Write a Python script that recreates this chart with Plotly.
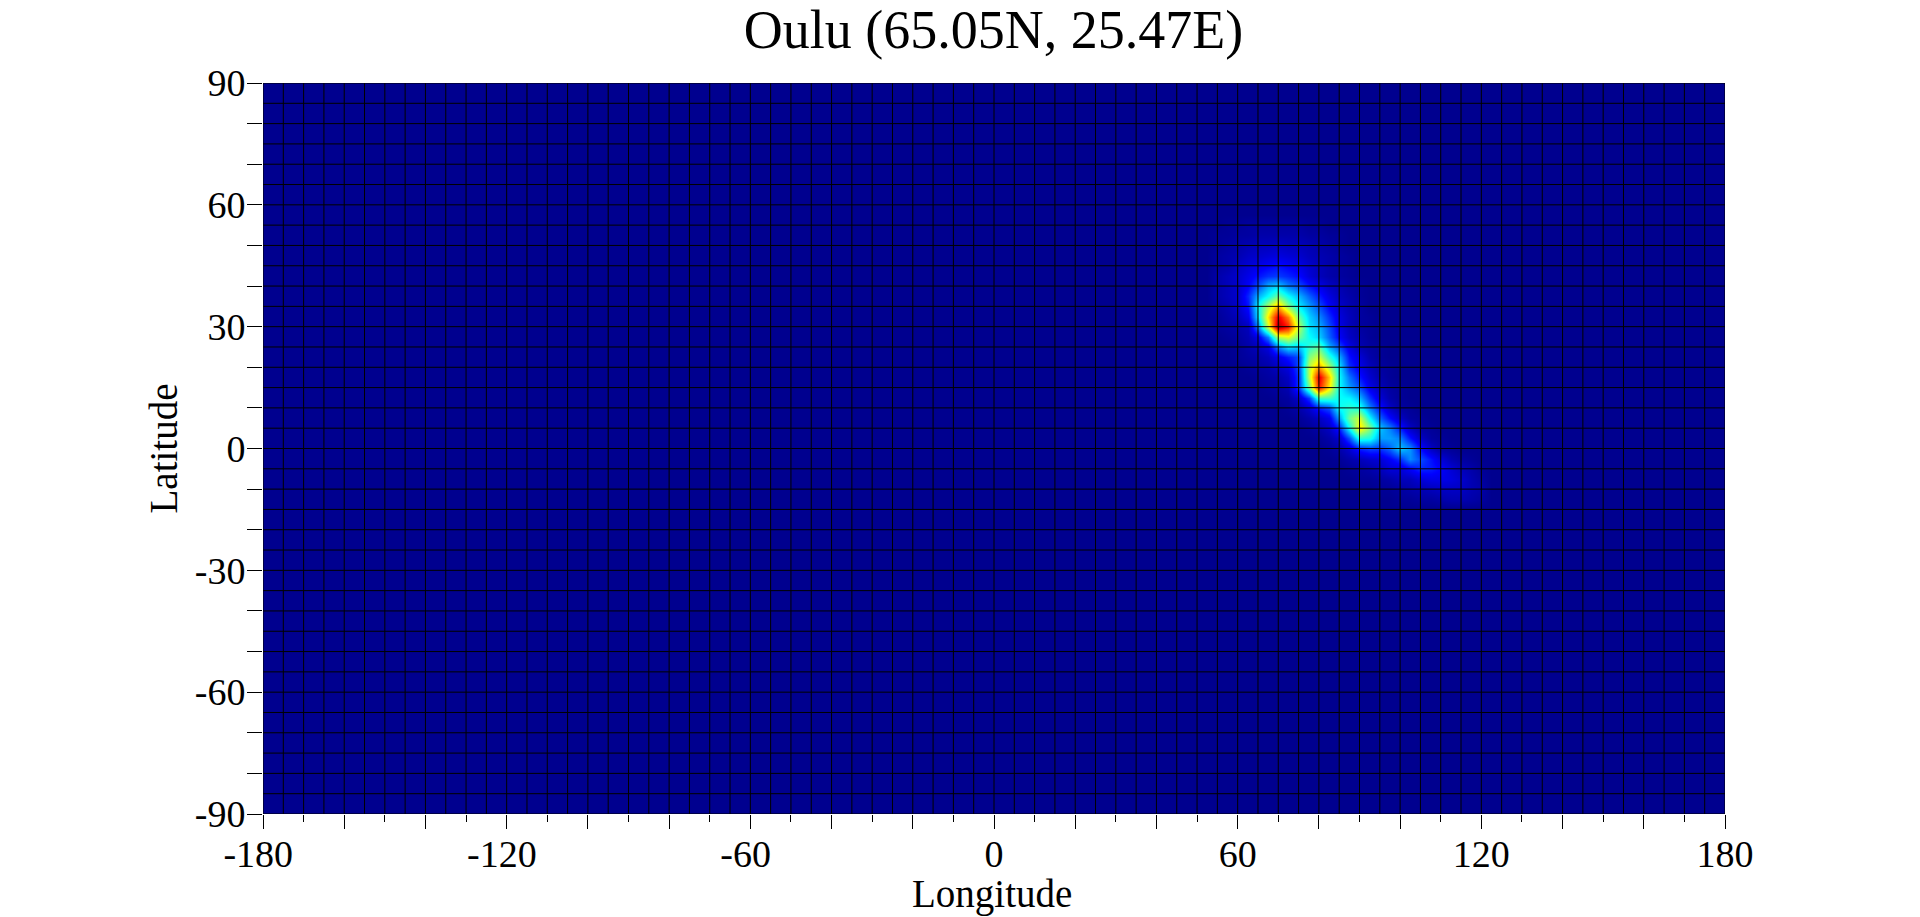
import plotly.graph_objects as go

TITLE = "Oulu (65.05N, 25.47E)"
X_TITLE = "Longitude"
Y_TITLE = "Latitude"
LONS = [-180 + 2.5 * i for i in range(145)]
LATS = [-90 + 2.5 * i for i in range(73)]
GRID_LONS = list(range(-180, 185, 5))
GRID_LATS = list(range(-90, 95, 5))

# Longitudes of the values in each row below: 55, 57.5, 60 ... eastward
HOT_LONS = [55 + 2.5 * i for i in range(27)]
lat_55 = [.00, .01, .01, .02, .02, .02, .02, .02, .02, .01, .01]
lat_52 = [.01, .01, .02, .02, .03, .03, .03, .03, .03, .02, .02, .01, .01]
lat_50 = [.01, .02, .03, .04, .05, .05, .06, .05, .05, .04, .03, .02, .01]
lat_47 = [.02, .03, .04, .06, .07, .08, .09, .08, .07, .05, .04, .03, .02, .01]
lat_45 = [.02, .03, .06, .08, .10, .12, .14, .12, .10, .07, .05, .03, .02, .01]
lat_42 = [.03, .05, .07, .10, .14, .17, .18, .16, .13, .08, .05, .03, .02, .01]
lat_40 = [.03, .05, .07, .12, .20, .30, .33, .25, .20, .14, .10, .06, .04, .02, .01]
lat_37 = [.03, .05, .07, .16, .30, .38, .48, .38, .30, .22, .15, .09, .05, .03, .01]
lat_35 = [.02, .04, .07, .14, .38, .55, .70, .50, .36, .28, .20, .12, .07, .04, .02]
lat_32 = [.01, .03, .05, .10, .35, .65, .90, .75, .47, .33, .26, .17, .09, .05, .02, .01]
lat_30 = [.01, .02, .03, .05, .25, .58, .96, .85, .55, .35, .30, .20, .10, .05, .02, .01]
lat_27 = [.00, .01, .02, .04, .10, .25, .55, .60, .48, .38, .33, .22, .12, .06, .03, .01]
lat_25 = [.00, .00, .01, .03, .05, .09, .25, .35, .32, .42, .47, .30, .20, .10, .04, .02, .01]
lat_22 = [.00, .00, .01, .02, .03, .05, .10, .15, .20, .50, .58, .42, .30, .14, .08, .03, .01]
lat_20 = [.00, .00, .00, .01, .02, .03, .06, .09, .20, .56, .72, .55, .36, .17, .10, .05, .02, .01]
lat_17 = [.00, .00, .00, .00, .01, .02, .03, .06, .18, .56, .90, .68, .38, .24, .14, .07, .03, .01]
lat_15 = [.00, .00, .00, .00, .00, .01, .02, .04, .18, .48, .85, .64, .38, .28, .20, .10, .05, .02, .01]
lat_12 = [.00, .00, .00, .00, .00, .00, .01, .02, .07, .18, .44, .44, .38, .37, .30, .17, .08, .03, .01]
lat_10 = [.00, .00, .00, .00, .00, .00, .00, .01, .03, .07, .15, .20, .38, .42, .40, .25, .14, .06, .02, .01]
lat_7 = [.00, .00, .00, .00, .00, .00, .00, .00, .01, .03, .06, .10, .28, .48, .58, .37, .22, .13, .06, .02, .01]
lat_5 = [.00, .00, .00, .00, .00, .00, .00, .00, .00, .01, .03, .06, .15, .38, .65, .50, .32, .25, .15, .06, .02, .01]
lat_2 = [.00, .00, .00, .00, .00, .00, .00, .00, .00, .00, .01, .03, .07, .20, .42, .40, .28, .28, .25, .14, .06, .02, .01]
lat_0 = [.00, .00, .00, .00, .00, .00, .00, .00, .00, .00, .00, .01, .03, .07, .15, .18, .17, .22, .32, .27, .14, .06, .02, .01]
lat_m2 = [.00, .00, .00, .00, .00, .00, .00, .00, .00, .00, .00, .00, .01, .03, .05, .07, .08, .12, .17, .26, .20, .14, .08, .04, .02, .01]
lat_m5 = [.00, .00, .00, .00, .00, .00, .00, .00, .00, .00, .00, .00, .00, .01, .02, .03, .05, .08, .08, .12, .16, .15, .12, .08, .05, .03, .01]
lat_m7 = [.00, .00, .00, .00, .00, .00, .00, .00, .00, .00, .00, .00, .00, .00, .01, .01, .02, .03, .05, .05, .08, .10, .10, .09, .07, .04, .02]
lat_m10 = [.00, .00, .00, .00, .00, .00, .00, .00, .00, .00, .00, .00, .00, .00, .00, .00, .01, .01, .02, .03, .04, .05, .06, .06, .06, .04, .03]
lat_m12 = [.00, .00, .00, .00, .00, .00, .00, .00, .00, .00, .00, .00, .00, .00, .00, .00, .00, .00, .01, .01, .02, .02, .03, .04, .04, .03, .02]
HOT_ROWS = {55: lat_55, 52.5: lat_52, 50: lat_50, 47.5: lat_47, 45: lat_45, 42.5: lat_42,
            40: lat_40, 37.5: lat_37, 35: lat_35, 32.5: lat_32, 30: lat_30, 27.5: lat_27,
            25: lat_25, 22.5: lat_22, 20: lat_20, 17.5: lat_17, 15: lat_15, 12.5: lat_12,
            10: lat_10, 7.5: lat_7, 5: lat_5, 2.5: lat_2, 0: lat_0, -2.5: lat_m2,
            -5: lat_m5, -7.5: lat_m7, -10: lat_m10, -12.5: lat_m12}

X_TICKS = list(range(-180, 200, 20))
NB = "\u00a0"
X_LABELS = {-180: "-180" + NB, -120: "-120" + NB, -60: "-60" + NB, 0: "0", 60: "60", 120: "120", 180: "180"}
Y_TICKS = list(range(-90, 100, 10))
Y_LABELS = {-90: "-90", -60: "-60", -30: "-30", 0: "0", 30: "30", 60: "60", 90: "90"}

JET = [[0, "#00008f"], [0.125, "#0000ff"], [0.375, "#00ffff"],
       [0.625, "#ffff00"], [0.875, "#ff0000"], [1, "#800000"]]

z = []
for lat in LATS:
    row = [0.0] * len(LONS)
    if lat in HOT_ROWS:
        for lon, v in zip(HOT_LONS, HOT_ROWS[lat]):
            row[LONS.index(lon)] = v
    z.append(row)

grid_x, grid_y = [], []
for lon in GRID_LONS:
    grid_x += [lon, lon, None]
    grid_y += [GRID_LATS[0], GRID_LATS[-1], None]
for lat in GRID_LATS:
    grid_x += [GRID_LONS[0], GRID_LONS[-1], None]
    grid_y += [lat, lat, None]

fig = go.Figure()
fig.add_trace(go.Heatmap(x=LONS, y=LATS, z=z, zmin=0, zmax=1, colorscale=JET,
                         zsmooth="best", showscale=False, hoverinfo="skip"))
fig.add_trace(go.Scatter(x=grid_x, y=grid_y, mode="lines", showlegend=False,
                         hoverinfo="skip", line=dict(color="#000000", width=1)))

SERIF = "Liberation Serif"
fig.update_layout(
    width=1920, height=917, autosize=False,
    margin=dict(l=263, r=195, t=83, b=103, pad=0),
    paper_bgcolor="#ffffff", plot_bgcolor="#00008f",
    font=dict(family=SERIF, color="#000000", size=38),
    title=dict(text=TITLE, x=0.5175, xanchor="center", y=0.968, yanchor="middle",
               font=dict(family=SERIF, size=54, color="#000000")),
    showlegend=False,
    xaxis=dict(range=[-180, 180], tickmode="array", tickvals=X_TICKS,
               ticktext=[X_LABELS.get(t, "") for t in X_TICKS], automargin=False,
               ticks="outside", ticklen=14, tickcolor="#000000", tickwidth=1,
               tickangle=0, showgrid=False, zeroline=False, showline=False,
               ticklabelstandoff=-8,
               minor=dict(tickmode="linear", tick0=-180, dtick=10, ticks="outside",
                          ticklen=7, tickcolor="#000000", tickwidth=1, showgrid=False),
               tickfont=dict(family=SERIF, size=38)),
    yaxis=dict(range=[-90, 90], tickmode="array", tickvals=Y_TICKS,
               ticktext=[Y_LABELS.get(t, "") for t in Y_TICKS], automargin=False,
               ticks="outside", ticklen=15, tickcolor="#000000", tickwidth=1,
               showgrid=False, zeroline=False, showline=False,
               ticklabelstandoff=-6,
               tickfont=dict(family=SERIF, size=38)),
    annotations=[
        dict(text=X_TITLE, xref="paper", yref="paper", x=0.4986, y=0, xanchor="center",
             yanchor="middle", yshift=-80, showarrow=False, font=dict(family=SERIF, size=39)),
        dict(text=Y_TITLE, xref="paper", yref="paper", x=0, y=0.5, xanchor="center",
             yanchor="middle", xshift=-100, textangle=-90, showarrow=False,
             font=dict(family=SERIF, size=39)),
    ],
)
fig.write_html("out.html", config={"displayModeBar": False},
               post_script="document.body.style.margin='0';document.body.style.overflow='hidden';")
